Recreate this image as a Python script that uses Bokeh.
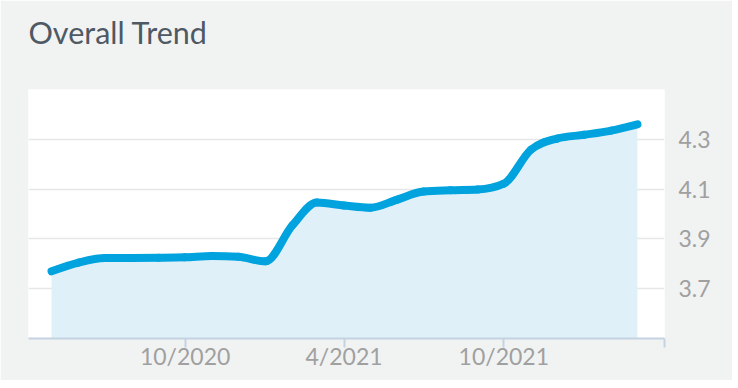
import numpy as np
import pandas as pd
from bokeh.plotting import figure
from bokeh.models import Range1d, FixedTicker, ColumnDataSource
from bokeh.embed import file_html
from bokeh.resources import INLINE

# ---- data ----
dates = ["2020-05-01", "2020-06-01", "2020-07-01", "2020-08-01", "2020-09-01",
         "2020-10-01", "2020-11-01", "2020-12-01", "2021-01-01", "2021-02-01",
         "2021-03-01", "2021-04-01", "2021-05-01", "2021-06-01", "2021-07-01",
         "2021-08-01", "2021-09-01", "2021-10-01", "2021-11-01", "2021-12-01",
         "2022-01-01", "2022-02-01", "2022-03-03"]
values = [3.77, 3.805, 3.823, 3.823, 3.824,
          3.826, 3.831, 3.828, 3.81, 3.955,
          4.046, 4.034, 4.025, 4.058, 4.09,
          4.095, 4.098, 4.122, 4.258, 4.303,
          4.318, 4.335, 4.36]
x_tick_dates = ["2020-10-01", "2021-04-01", "2021-10-01"]
x_tick_labels = ["10/2020", "4/2021", "10/2021"]
y_ticks = [3.7, 3.9, 4.1, 4.3]
y_tick_labels = ["3.7", "3.9", "4.1", "4.3"]
title_text = "Overall Trend"

# ---- axis extent (layout) ----
x_start, x_end = "2020-04-04 15:00", "2022-04-03"
y_start, y_end = 3.5, 4.5

xs = np.array([pd.Timestamp(d).value / 1e6 for d in dates])
ys = np.array(values, dtype=float)
xt = [pd.Timestamp(d).value / 1e6 for d in x_tick_dates]
xr0 = pd.Timestamp(x_start).value / 1e6
xr1 = pd.Timestamp(x_end).value / 1e6

# monotone cubic (Fritsch-Carlson) tangents -> Bezier control points
h = np.diff(xs)
s = np.diff(ys) / h
n = len(xs)
t = np.zeros(n)
for i in range(1, n - 1):
    h0, h1, s0, s1 = h[i - 1], h[i], s[i - 1], s[i]
    pp = (s0 * h1 + s1 * h0) / (h0 + h1)
    t[i] = (np.sign(s0) + np.sign(s1)) * min(abs(s0), abs(s1), 0.5 * abs(pp))
t[0] = (3 * s[0] - t[1]) / 2
t[-1] = (3 * s[-1] - t[-2]) / 2
dx = h / 3
seg = ColumnDataSource(dict(
    x0=xs[:-1], y0=ys[:-1], x1=xs[1:], y1=ys[1:],
    cx0=xs[:-1] + dx, cy0=ys[:-1] + dx * t[:-1],
    cx1=xs[1:] - dx, cy1=ys[1:] - dx * t[1:],
))

BG = "#f1f3f3"
p = figure(width=732, height=380, x_axis_type="datetime", y_axis_location="right",
           x_range=Range1d(xr0, xr1), y_range=Range1d(y_start, y_end),
           output_backend="svg", toolbar_location=None,
           min_border_left=28, min_border_right=68, min_border_top=89, min_border_bottom=42)
p.background_fill_color = "white"
p.border_fill_color = BG
p.outline_line_color = None

p.title.text = title_text
p.title.text_font = "Lato"
p.title.text_font_size = "30.5px"
p.title.text_font_style = "normal"
p.title.text_color = "#4f5964"
p.title.align = "left"
p.title.vertical_align = "top"
if "padding" in p.title.properties():
    p.title.standoff = 0
    p.title.padding = dict(left=0, right=0, top=12, bottom=38)
else:
    p.title.standoff = 50

p.varea(x=xs, y1=y_start, y2=ys, fill_color="#dff0f9")
p.bezier(x0="x0", y0="y0", x1="x1", y1="y1", cx0="cx0", cy0="cy0", cx1="cx1", cy1="cy1",
         source=seg, line_color="#00a3de", line_width=8, line_cap="round")

# x axis
xa = p.xaxis[0]
xa.ticker = FixedTicker(ticks=xt + [xr1])
overrides = {v: lab for v, lab in zip(xt, x_tick_labels)}
overrides[xr1] = ""
xa.major_label_overrides = overrides
xa.axis_line_color = "#c4d2e2"
xa.axis_line_width = 2
xa.major_tick_line_color = "#c4d2e2"
xa.major_tick_line_width = 2
xa.major_tick_out = 9
xa.major_tick_in = 0
xa.minor_tick_line_color = None
xa.minor_tick_out = 0
xa.major_label_text_font = "Lato"
xa.major_label_text_font_size = "23px"
xa.major_label_text_color = "#a0a0a0"
xa.major_label_standoff = -6

# y axis
ya = p.yaxis[0]
ya.ticker = FixedTicker(ticks=y_ticks)
ya.major_label_overrides = {v: lab for v, lab in zip(y_ticks, y_tick_labels)}
ya.axis_line_color = None
ya.major_tick_line_color = None
ya.minor_tick_line_color = None
ya.major_tick_out = 0
ya.major_tick_in = 0
ya.minor_tick_out = 0
ya.major_label_text_font = "Lato"
ya.major_label_text_font_size = "23px"
ya.major_label_text_color = "#a0a0a0"
ya.major_label_standoff = 14

p.xgrid.grid_line_color = None
p.ygrid.ticker = FixedTicker(ticks=y_ticks)
p.ygrid.grid_line_color = "#e5e7e8"
p.ygrid.grid_line_width = 1.5

open("out.html", "w").write(file_html(p, INLINE, title="Overall Trend"))
